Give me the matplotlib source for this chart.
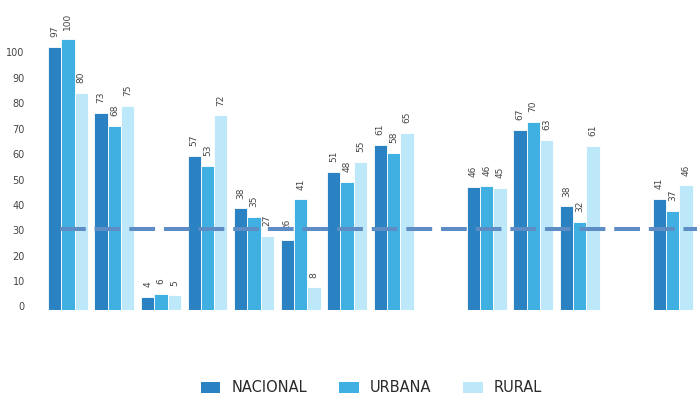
import numpy as np
import matplotlib
matplotlib.use("Agg")
import matplotlib.pyplot as plt
import matplotlib.transforms as mtransforms
from matplotlib.patches import Patch

# bar heights as drawn (axis units), nan = empty slot
nacional = [103.7, 77.7, 5.2, 60.6, 40.0, 27.6, 54.5, 65.0, np.nan, 48.4, 70.9, 40.8, np.nan, 43.7]
urbana = [106.6, 72.4, 6.4, 56.7, 36.7, 43.6, 50.5, 61.9, np.nan, 48.8, 74.0, 34.6, np.nan, 39.1]
rural = [85.6, 80.3, 5.8, 76.6, 29.1, 8.9, 58.3, 69.7, np.nan, 48.0, 66.9, 64.6, np.nan, 49.1]
# value labels printed above the bars
nacional_lbl = ["97", "73", "4", "57", "38", "26", "51", "61", "", "46", "67", "38", "", "41"]
urbana_lbl = ["100", "68", "6", "53", "35", "41", "48", "58", "", "46", "70", "32", "", "37"]
rural_lbl = ["80", "75", "5", "72", "27", "8", "55", "65", "", "45", "63", "61", "", "46"]
series_names = ["NACIONAL", "URBANA", "RURAL"]
ref_line = 31.9
yticks = list(range(0, 101, 10))

colors = ["#2a82c3", "#40b0e2", "#bce8f9"]
txt = "#444444"

fig = plt.figure(figsize=(6.97, 4.0), dpi=100)
ax = fig.add_axes([40/697, 90/400, 657/697, 115*2.54/400])

x = np.arange(len(nacional))
w = 0.286
for i, (vals, lbls) in enumerate(zip([nacional, urbana, rural], [nacional_lbl, urbana_lbl, rural_lbl])):
    pos = x + (i - 1) * w
    ax.bar(pos, vals, width=w, color=colors[i], edgecolor="white", linewidth=0.6,
           label=series_names[i], zorder=2)
    for px, v, l in zip(pos, vals, lbls):
        if l == "":
            continue
        ax.annotate(l, (px, v), xytext=(0, 7), textcoords="offset points",
                    rotation=90, ha="center", va="bottom", fontsize=6.5, color=txt,
                    annotation_clip=False)

ax.plot([-0.17, 13.6], [ref_line, ref_line], color="#5d8dc4", lw=2.9,
        dashes=(6.4, 2.2), zorder=3, solid_capstyle="butt", dash_capstyle="butt")

ax.set_xlim(-0.6, 13.52)
ax.set_ylim(0, 115)
ax.set_xticks([])
ax.set_yticks(yticks)
ax.tick_params(axis="y", length=0, pad=11, labelsize=7, labelcolor=txt)
for s in ax.spines.values():
    s.set_visible(False)
off = mtransforms.ScaledTranslation(0, 0.035, fig.dpi_scale_trans)
for lab in ax.get_yticklabels():
    lab.set_transform(lab.get_transform() + off)

handles = [Patch(facecolor=c, edgecolor="none") for c in colors]
leg = fig.legend(handles, series_names, loc="center", bbox_to_anchor=(0.533, 0.03),
                 ncol=3, frameon=False, fontsize=10.5, handlelength=1.35, handleheight=0.8,
                 handletextpad=0.75, columnspacing=2.2)
for t in leg.get_texts():
    t.set_color("#2a2a2a")

fig.savefig("out.png", dpi=100)
